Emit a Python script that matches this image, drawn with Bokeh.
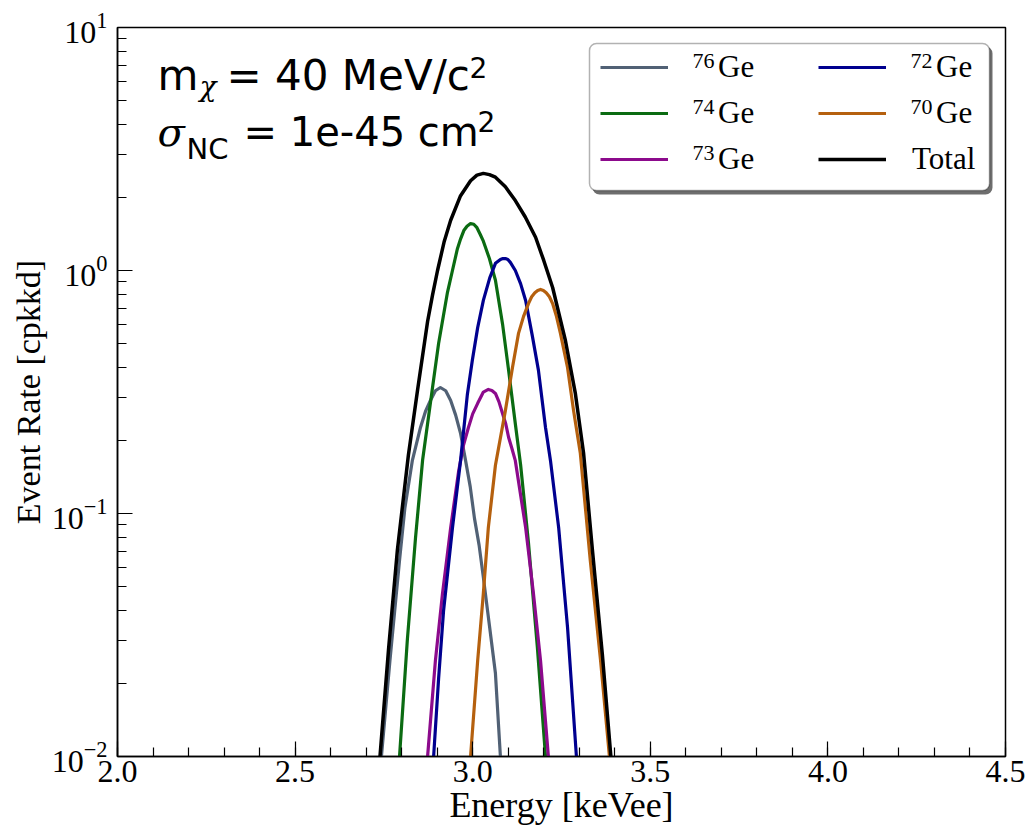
from bokeh.plotting import figure
from bokeh.models import (FixedTicker, Legend, LegendItem, BoxAnnotation, Label, Range1d,
                          PrintfTickFormatter)
from bokeh.embed import file_html
from bokeh.resources import INLINE

# Recoil spectra per germanium isotope: energy [keVee] and event rate [cpkkd]
ge76_e = [2.743, 2.767, 2.794, 2.809, 2.830, 2.853, 2.867, 2.881, 2.895, 2.909, 2.924, 2.938, 2.952,
          2.966, 2.980, 2.993, 3.005, 3.018, 3.030, 3.047, 3.064, 3.078]
ge76_r = [0.0100, 0.0248, 0.0641, 0.105, 0.165, 0.226, 0.263, 0.292, 0.320, 0.330, 0.320, 0.292, 0.254,
          0.213, 0.165, 0.129, 0.0955, 0.0741, 0.0546, 0.0347, 0.0220, 0.0100]

ge74_e = [2.794, 2.816, 2.839, 2.859, 2.887, 2.904, 2.929, 2.943, 2.957, 2.966, 2.975, 2.984, 2.994,
          3.003, 3.012, 3.021, 3.030, 3.047, 3.064, 3.084, 3.101, 3.120, 3.135, 3.157, 3.182, 3.205]
ge74_r = [0.0100, 0.0302, 0.0794, 0.166, 0.331, 0.501, 0.813, 1.00, 1.23, 1.35, 1.46, 1.52, 1.56,
          1.55, 1.50, 1.41, 1.32, 1.12, 0.912, 0.603, 0.389, 0.234, 0.158, 0.0759, 0.0282, 0.0100]

ge73_e = [2.873, 2.895, 2.915, 2.938, 2.960, 2.974, 2.988, 3.000, 3.014, 3.030, 3.044, 3.054, 3.064,
          3.074, 3.084, 3.093, 3.101, 3.110, 3.120, 3.149, 3.171, 3.191, 3.213]
ge73_r = [0.0100, 0.0248, 0.0469, 0.0875, 0.148, 0.191, 0.226, 0.257, 0.284, 0.316, 0.324, 0.321, 0.312,
          0.288, 0.258, 0.234, 0.206, 0.186, 0.165, 0.0875, 0.0469, 0.0248, 0.0100]

ge72_e = [2.890, 2.904, 2.918, 2.943, 2.966, 2.985, 2.999, 3.014, 3.030, 3.048, 3.064, 3.078, 3.085,
          3.092, 3.099, 3.106, 3.120, 3.135, 3.149, 3.168, 3.185, 3.205, 3.219, 3.242, 3.267, 3.292]
ge72_r = [0.0100, 0.0209, 0.0398, 0.0871, 0.166, 0.309, 0.427, 0.582, 0.753, 0.933, 1.07, 1.11, 1.12,
          1.12, 1.11, 1.08, 1.00, 0.881, 0.753, 0.537, 0.389, 0.226, 0.165, 0.0875, 0.0340, 0.0100]

ge70_e = [2.994, 3.014, 3.030, 3.044, 3.064, 3.092, 3.112, 3.129, 3.143, 3.157, 3.166, 3.175, 3.183,
          3.191, 3.199, 3.207, 3.216, 3.225, 3.236, 3.247, 3.267, 3.284, 3.303, 3.331, 3.360, 3.385]
ge70_r = [0.0100, 0.0248, 0.0469, 0.0875, 0.158, 0.265, 0.399, 0.551, 0.646, 0.731, 0.780, 0.810, 0.828,
          0.836, 0.828, 0.810, 0.780, 0.731, 0.646, 0.551, 0.399, 0.265, 0.177, 0.0641, 0.0248, 0.0100]

total_e = [2.739, 2.763, 2.788, 2.819, 2.845, 2.873, 2.887, 2.901, 2.920, 2.938, 2.965, 2.994, 3.012,
           3.030, 3.047, 3.064, 3.092, 3.120, 3.148, 3.177, 3.200, 3.225, 3.261, 3.289, 3.312, 3.337,
           3.365, 3.389]
total_r = [0.0100, 0.0275, 0.0708, 0.174, 0.324, 0.617, 0.794, 1.00, 1.32, 1.61, 2.02, 2.34, 2.47,
           2.51, 2.48, 2.42, 2.21, 1.94, 1.66, 1.37, 1.10, 0.851, 0.515, 0.312, 0.178, 0.0708,
           0.0263, 0.0100]

# (mass number, legend text, energies, rates, colour)
series = [
    ("76", "Ge", ge76_e, ge76_r, "#516175"),
    ("74", "Ge", ge74_e, ge74_r, "#0b6b12"),
    ("73", "Ge", ge73_e, ge73_r, "#8c0a8c"),
    ("72", "Ge", ge72_e, ge72_r, "#00008f"),
    ("70", "Ge", ge70_e, ge70_r, "#b5600e"),
    ("", "Total", total_e, total_r, "#000000"),
]

x_major = [2.0, 2.5, 3.0, 3.5, 4.0, 4.5]
x_minor = [round(2.0 + 0.1 * i, 1) for i in range(26)]
y_major = [0.01, 0.1, 1.0, 10.0]
y_minor = [k * 10.0 ** d for d in (-2, -1, 0) for k in range(2, 10)]

X_RANGE = (2.0, 4.5)
Y_RANGE = (0.01, 10.0)

LEFT, TOP, FW, FH = 117, 27, 888, 729
BOTTOM = TOP + FH

p = figure(
    frame_width=FW, frame_height=FH,
    min_border_left=LEFT, min_border_top=TOP, min_border_right=21, min_border_bottom=0,
    y_axis_type="log",
    x_range=Range1d(*X_RANGE), y_range=Range1d(*Y_RANGE),
    output_backend="svg", toolbar_location=None,
    background_fill_color="white", border_fill_color="white",
)
p.xgrid.visible = False
p.ygrid.visible = False
p.outline_line_color = "black"
p.outline_line_width = 1.5

p.xaxis.ticker = FixedTicker(ticks=x_major, minor_ticks=x_minor)
p.xaxis.formatter = PrintfTickFormatter(format="%.1f")
p.yaxis.ticker = FixedTicker(ticks=y_major, minor_ticks=y_minor)

for ax in (p.xaxis[0], p.yaxis[0]):
    ax.axis_line_color = "black"
    ax.axis_line_width = 1.5
    ax.major_tick_line_color = "black"
    ax.minor_tick_line_color = "black"
    ax.major_tick_line_width = 1.2
    ax.minor_tick_line_width = 1.2
    ax.major_tick_in = 15
    ax.major_tick_out = 0
    ax.minor_tick_in = 9
    ax.minor_tick_out = 0
    ax.major_label_text_font = "Liberation Serif"
    ax.major_label_text_font_size = "32px"
    ax.major_label_text_color = "black"
    ax.axis_label_text_font = "Liberation Serif"
    ax.axis_label_text_font_style = "normal"
    ax.axis_label_text_color = "black"

p.xaxis.axis_label = "Energy [keVee]"
p.yaxis.axis_label = "Event Rate [cpkkd]"
p.xaxis.axis_label_text_font_size = "36px"
p.yaxis.axis_label_text_font_size = "34px"
p.xaxis.major_label_standoff = 4
p.xaxis.axis_label_standoff = 0
p.yaxis.major_label_standoff = 10
p.yaxis.axis_label_standoff = 2

renderers = []
for mass, name, e, r, color in series:
    lw = 3.5 if name == "Total" else 3.2
    renderers.append(p.line(e, r, line_color=color, line_width=lw, line_join="round"))


def data_x(px):
    return X_RANGE[0] + (px - LEFT) * (X_RANGE[1] - X_RANGE[0]) / FW


def data_y(py):
    return 10 ** (1 - (py - TOP) * 3 / FH)


def add_text(t, px, py, font, size, style="normal"):
    # py is the wanted baseline; the svg text box sits about 0.4 em lower
    p.add_layout(Label(x=data_x(px), y=data_y(py - 0.4 * size), text=t, text_font=font,
                       text_font_size=f"{size}px", text_font_style=style,
                       text_baseline="alphabetic", text_align="left", text_color="black"))


# legend frame with drop shadow
p.add_layout(BoxAnnotation(left=data_x(592), right=data_x(992), top=data_y(46), bottom=data_y(194),
                           fill_color="#6e6e6e", fill_alpha=1.0, line_color=None, border_radius=7))
p.add_layout(BoxAnnotation(left=data_x(589), right=data_x(989), top=data_y(43), bottom=data_y(190),
                           fill_color="white", fill_alpha=1.0, line_color="black", line_width=1.5,
                           border_radius=7))

ROW_H, ROW_GAP = 36, 10
row_y = [67, 67 + ROW_H + ROW_GAP, 67 + 2 * (ROW_H + ROW_GAP)]
groups = [
    (range(0, 3), 600, 50, 0),   # first column
    (range(3, 5), 818, 50, 0),   # second column, isotopes
    (range(5, 6), 818, 26, 2),   # second column, total
]
for idx, gx, standoff, first_row in groups:
    idx = list(idx)
    n = len(idx)
    top = row_y[first_row] - ROW_H / 2
    height = n * ROW_H + (n - 1) * ROW_GAP
    leg = Legend(
        items=[LegendItem(label=series[i][1], renderers=[renderers[i]]) for i in idx],
        location=(gx - LEFT, BOTTOM - (top + height)),
        orientation="vertical",
        padding=0, margin=0, spacing=ROW_GAP,
        glyph_width=68, glyph_height=ROW_H, label_height=ROW_H, label_standoff=standoff,
        border_line_color=None, background_fill_alpha=0,
        label_text_font="Liberation Serif", label_text_font_size="31px",
        label_text_color="black",
    )
    p.add_layout(leg)
    for k, i in enumerate(idx):
        if series[i][0]:
            add_text(series[i][0], gx + 92, row_y[first_row + k] + 2, "Liberation Serif", 22)

# model parameters
sans = "DejaVu Sans"
serif = "DejaVu Serif"
add_text("m", 157, 92, sans, 42)
add_text("χ", 199, 97, serif, 28, "italic")
add_text("= 40 MeV/c", 226, 92, sans, 42)
add_text("2", 469, 78, sans, 28)
add_text("σ", 157, 147, serif, 40, "italic")
add_text("NC", 186, 160, sans, 29)
add_text("= 1e-45 cm", 243, 147, sans, 40)
add_text("2", 477, 132, sans, 28)

open("out.html", "w").write(file_html(p, INLINE))
